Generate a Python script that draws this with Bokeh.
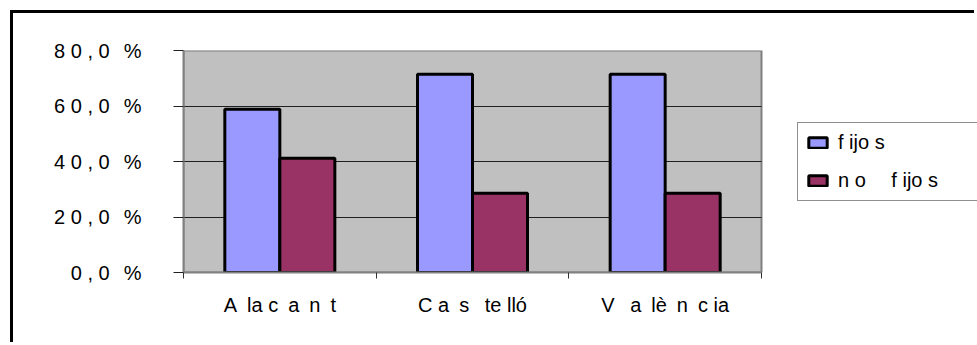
from bokeh.plotting import figure
from bokeh.models import (ColumnDataSource, Range1d, FixedTicker, LinearAxis,
                          Legend, BoxAnnotation)
from bokeh.transform import dodge
from bokeh.embed import file_html
from bokeh.resources import INLINE

EN = "\u2002"    # en space, used for the wide letter gaps of the labels
THIN = "\u2009"  # thin space

# --- data -------------------------------------------------------------
provinces = ["Alacant", "Castelló", "València"]
province_labels = ["A" + EN + "la c" + EN + "a" + EN + "n" + EN + "t",
                   "C a" + EN + "s" + EN + " te lló",
                   "V" + EN + " a" + EN + "lè" + EN + "n" + EN + "c ia"]
fijos = [58.8, 71.4, 71.4]
no_fijos = [41.2, 28.6, 28.6]
series_labels = ["f ijo s", "n o" + EN + " " + EN + "f ijo s"]
y_ticks = [0, 20, 40, 60, 80]
y_tick_labels = [s + " , 0" + EN + THIN + "%" for s in ["0", "2 0", "4 0", "6 0", "8 0"]]

FONT = "Liberation Sans"
FSIZE = "20px"

# the canvas sits inside a 3px black frame drawn 10px from the page corner
OFF = 13
W, H = 977 - OFF, 345 - OFF
LEFT, TOP = 183 - OFF, 50 - OFF
BOTTOM = H - (272 - OFF)
PLOT_W = 578                      # width of the grey plotting area
FRAME_W = W - LEFT                # frame runs on to the right edge (legend lives there)

n = len(provinces)
centers = [i + 0.5 for i in range(n)]   # one unit slot per province
edges = list(range(n + 1))
source = ColumnDataSource(dict(xc=centers, prov=provinces,
                               fijos=fijos, no_fijos=no_fijos))

p = figure(width=W, height=H, output_backend="svg", toolbar_location=None,
           x_range=Range1d(0, n * FRAME_W / PLOT_W), y_range=Range1d(0, 80),
           x_axis_location=None, y_axis_location="left",
           min_border_left=LEFT, min_border_right=0,
           min_border_top=TOP, min_border_bottom=BOTTOM,
           background_fill_color="white", border_fill_color="white")
p.styles = {"margin-left": f"{OFF}px", "margin-top": f"{OFF}px",
            "overflow": "hidden",
            "box-shadow": "-3px -3px 0 0 black"}
p.outline_line_color = None

# grey plotting area with its border
p.add_layout(BoxAnnotation(left=0, right=n, bottom=0, top=80, level="image",
                           fill_color="#C0C0C0", fill_alpha=1,
                           line_color="#808080", line_width=2, line_alpha=1))

# y axis with percentage tick labels
yax = p.yaxis[0]
yax.ticker = FixedTicker(ticks=y_ticks)
yax.major_label_overrides = {t: s for t, s in zip(y_ticks, y_tick_labels)}
yax.major_label_text_font = FONT
yax.major_label_text_font_size = FSIZE
yax.major_label_text_color = "black"
yax.major_label_standoff = 32
yax.major_tick_in = 0
yax.major_tick_out = 10
yax.minor_tick_line_color = None
yax.major_tick_line_color = "#202020"
yax.axis_line_color = "#808080"
yax.axis_line_width = 2

p.ygrid.ticker = FixedTicker(ticks=y_ticks)
p.ygrid.cross_bounds = (0, n)
p.ygrid.grid_line_color = "#202020"
p.ygrid.grid_line_width = 1
p.xgrid.grid_line_color = None

# province names centred in each slot, small ticks on the slot boundaries
xax = LinearAxis(ticker=FixedTicker(ticks=centers, minor_ticks=edges),
                 bounds=(0, n),
                 major_tick_line_color=None, major_tick_out=0, major_tick_in=0,
                 minor_tick_out=6, minor_tick_in=0, minor_tick_line_color="#303030",
                 axis_line_color="#808080", axis_line_width=2,
                 major_label_standoff=15)
xax.major_label_overrides = {c: s for c, s in zip(centers, province_labels)}
xax.major_label_text_font = FONT
xax.major_label_text_font_size = FSIZE
xax.major_label_text_color = "black"
p.add_layout(xax, "below")

# bars
bw = 0.2855
r1 = p.vbar(x=dodge("xc", -bw / 2), top="fijos", width=bw,
            source=source, fill_color="#9999FF", line_color="black", line_width=3)
r2 = p.vbar(x=dodge("xc", bw / 2), top="no_fijos", width=bw,
            source=source, fill_color="#993366", line_color="black", line_width=3)

legend = Legend(items=[(series_labels[0], [r1]), (series_labels[1], [r2])],
                location=(PLOT_W + 36, 71), orientation="vertical",
                label_text_font=FONT, label_text_font_size=FSIZE,
                label_text_color="black", label_standoff=9,
                glyph_width=23, glyph_height=13, label_height=13,
                label_width=150, spacing=15, padding=8, margin=0,
                border_line_color="#202020", border_line_width=1,
                background_fill_color="white", background_fill_alpha=1)
p.add_layout(legend, "center")

open("out.html", "w").write(file_html(p, INLINE))
